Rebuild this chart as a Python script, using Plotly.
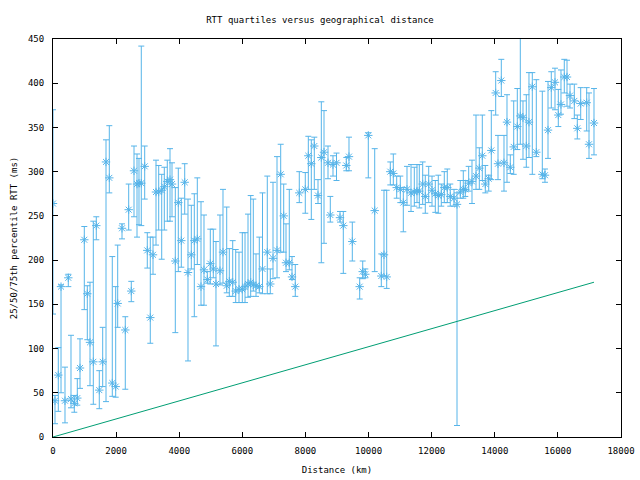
import plotly.graph_objects as go

# Distance bins (km)
distance_km = [
    0, 63, 168, 254, 380, 485, 570, 675, 770, 856,
    992, 1087, 1173, 1277, 1372, 1467, 1575, 1680, 1784, 1879,
    1987, 2050, 2187, 2291, 2399, 2481, 2567, 2662, 2725, 2798,
    2906, 2988, 3083, 3169, 3264, 3350, 3445, 3527, 3622, 3708,
    3771, 3876, 3971, 4066, 4174, 4278, 4383, 4478, 4573, 4690,
    4785, 4890, 4985, 5080, 5165, 5292, 5387, 5505, 5587, 5695,
    5790, 5894, 5999, 6085, 6180, 6265, 6348, 6433, 6538, 6639,
    6791, 6886, 6972, 7099, 7216, 7311, 7384, 7488, 7574, 7678,
    7805, 7995, 8091, 8186, 8281, 8398, 8503, 8588, 8715, 8788,
    8873, 8984, 9095, 9200, 9295, 9380, 9485, 9719, 9815, 9897,
    9992, 10195, 10404, 10489, 10575, 10689, 10784, 10892, 11006, 11101,
    11218, 11345, 11450, 11535, 11608, 11716, 11798, 11906, 12011, 12115,
    12210, 12305, 12400, 12495, 12590, 12708, 12803, 12907, 13002, 13066,
    13173, 13278, 13405, 13510, 13605, 13700, 13808, 13890, 14029, 14102,
    14207, 14292, 14387, 14492, 14600, 14714, 14809, 14894, 14999, 15084,
    15189, 15316, 15506, 15591, 15687, 15791, 15908, 16013, 16098, 16203,
    16289, 16384, 16520, 16615, 16723, 16913, 16986, 17144,
]

# 50th percentile RTT (ms)
rtt_median = [
    264, 41, 70, 170, 41, 180, 43, 38, 44, 78,
    223, 162, 107, 85, 239, 53, 85, 311, 293, 61,
    57, 151, 236, 121, 257, 165, 301, 286, 287, 287,
    306, 211, 135, 206, 277, 277, 279, 283, 289, 291,
    286, 199, 265, 222, 288, 186, 206, 222, 224, 170,
    189, 178, 196, 190, 173, 188, 209, 171, 176, 175,
    165, 167, 167, 170, 173, 175, 172, 171, 170, 190,
    209, 173, 202, 211, 297, 250, 197, 197, 181, 170,
    276, 280, 318, 309, 329, 273, 316, 322, 310, 251,
    308, 310, 248, 239, 307, 317, 221, 170, 187, 184,
    341, 256, 182, 206, 181, 300, 298, 282, 280, 265,
    280, 276, 277, 278, 278, 286, 272, 286, 279, 275,
    273, 274, 282, 282, 272, 270, 263, 277, 280, 280,
    287, 289, 295, 304, 318, 286, 292, 324, 389, 309,
    403, 310, 356, 305, 328, 351, 363, 361, 329, 356,
    396, 322, 297, 296, 347, 395, 401, 364, 376, 407,
    407, 386, 380, 349, 377, 378, 331, 355,
]

# 25th percentile RTT (ms)
rtt_p25 = [
    139, 15, 29, 50, 16, 170, 33, 28, 36, 55,
    144, 110, 58, 37, 223, 32, 57, 40, 276, 46,
    45, 124, 224, 54, 234, 153, 249, 226, 240, 239,
    269, 191, 106, 184, 217, 234, 201, 234, 244, 244,
    249, 118, 187, 192, 252, 86, 190, 136, 195, 149,
    149, 174, 173, 180, 103, 172, 174, 163, 159, 159,
    152, 152, 152, 152, 158, 159, 165, 159, 163, 162,
    162, 162, 179, 180, 209, 209, 187, 189, 178, 159,
    265, 253, 280, 246, 280, 264, 197, 219, 292, 243,
    295, 290, 243, 185, 301, 301, 199, 156, 179, 180,
    293, 187, 170, 182, 168, 285, 285, 270, 265, 232,
    262, 255, 261, 265, 259, 263, 253, 265, 261, 254,
    253, 261, 265, 265, 261, 261, 13, 270, 270, 272,
    278, 264, 280, 280, 290, 276, 278, 291, 364, 291,
    385, 278, 288, 298, 297, 325, 331, 314, 305, 316,
    297, 317, 292, 288, 315, 372, 370, 351, 365, 389,
    374, 372, 360, 337, 359, 346, 315, 319,
]

# 75th percentile RTT (ms)
rtt_p75 = [
    370, 47, 101, 172, 79, 184, 115, 47, 66, 111,
    238, 171, 175, 244, 249, 75, 124, 336, 352, 204,
    170, 217, 241, 136, 286, 176, 329, 320, 315, 442,
    329, 231, 226, 226, 313, 307, 297, 305, 313, 326,
    310, 282, 304, 270, 309, 269, 262, 275, 293, 266,
    251, 187, 235, 235, 221, 251, 280, 260, 213, 222,
    212, 209, 231, 231, 252, 273, 269, 207, 226, 276,
    295, 190, 288, 317, 331, 286, 241, 280, 204, 195,
    300, 299, 340, 336, 339, 291, 379, 369, 329, 272,
    318, 321, 255, 255, 316, 339, 243, 180, 199, 190,
    344, 326, 207, 279, 279, 311, 320, 295, 295, 282,
    306, 308, 305, 308, 308, 311, 296, 306, 295, 290,
    296, 286, 300, 303, 286, 280, 276, 290, 301, 290,
    306, 313, 364, 327, 364, 307, 296, 369, 413, 341,
    427, 341, 387, 319, 380, 394, 470, 380, 387, 412,
    412, 404, 391, 303, 402, 413, 417, 393, 415, 427,
    426, 399, 399, 364, 395, 395, 389, 394,
]

# Lower bound reference line (speed of light in fibre)
bound_km = [0, 17144]
bound_ms = [0, 175]

err_plus = [h - m for h, m in zip(rtt_p75, rtt_median)]
err_minus = [m - l for m, l in zip(rtt_median, rtt_p25)]

BLUE = "#56b4e9"
GREEN = "#009e73"
FONT = "DejaVu Sans Mono"

fig = go.Figure()

fig.add_trace(go.Scatter(
    x=distance_km,
    y=rtt_median,
    mode="markers",
    marker=dict(symbol="asterisk-open", size=7, color=BLUE,
                line=dict(color=BLUE, width=1)),
    error_y=dict(type="data", symmetric=False, array=err_plus,
                 arrayminus=err_minus, color=BLUE, thickness=1, width=3),
    showlegend=False,
))

fig.add_trace(go.Scatter(
    x=bound_km,
    y=bound_ms,
    mode="lines",
    line=dict(color=GREEN, width=1),
    showlegend=False,
))

axis_common = dict(
    showline=True, linecolor="black", linewidth=1, mirror="ticks",
    ticks="inside", ticklen=5, tickcolor="black", tickwidth=1,
    showgrid=False, zeroline=False, tickformat="d", automargin=False,
    tickfont=dict(family=FONT, size=9, color="black"),
)

fig.update_layout(
    width=640, height=480,
    margin=dict(l=53, r=19, t=39, b=43),
    paper_bgcolor="white", plot_bgcolor="white",
    title=dict(text="RTT quartiles versus geographical distance",
               x=0.5, xanchor="center", y=1 - 20 / 480, yanchor="middle",
               font=dict(family=FONT, size=9, color="black")),
    xaxis=dict(range=[0, 18000], dtick=2000, tick0=0, ticklabelstandoff=5,
               title=dict(text="Distance (km)", standoff=11,
                          font=dict(family=FONT, size=9, color="black")),
               **axis_common),
    yaxis=dict(range=[0, 450], dtick=50, tick0=0, ticklabelstandoff=6,
               title=dict(text="25/50/75th percentile RTT (ms)", standoff=8,
                          font=dict(family=FONT, size=9, color="black")),
               **axis_common),
)

fig.write_html("out.html")
